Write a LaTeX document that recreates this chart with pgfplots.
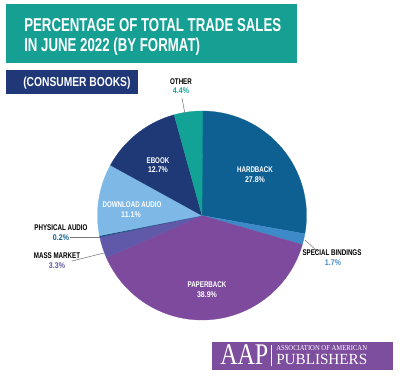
\documentclass[border=0pt]{standalone}
\usepackage{pgfplots}
\pgfplotsset{compat=1.18}
\usepackage{fontspec}
\usepackage{graphicx}
\setmainfont{Liberation Sans}
\newfontfamily\seriffont{Liberation Serif}

\definecolor{cTealBox}{RGB}{22,160,148}
\definecolor{cNavyBox}{RGB}{32,56,120}
\definecolor{cLogo}{RGB}{125,78,158}
\definecolor{cHard}{RGB}{14,96,146}
\definecolor{cSpecial}{RGB}{62,138,201}
\definecolor{cPaper}{RGB}{125,74,157}
\definecolor{cMass}{RGB}{96,88,168}
\definecolor{cPhys}{RGB}{22,78,128}
\definecolor{cDown}{RGB}{125,184,230}
\definecolor{cEbook}{RGB}{30,57,118}
\definecolor{cOther}{RGB}{18,163,150}
\definecolor{cLead}{RGB}{120,120,120}

\def\cum{0}
\newcommand\slice[2]{%
  \pgfmathsetmacro\sa{90-3.6*\cum}%
  \pgfmathsetmacro\sb{90-3.6*(\cum+#1)}%
  \pgfmathsetmacro\xs{202+104.5*cos(\sa)}%
  \pgfmathsetmacro\ys{162.5+104.5*sin(\sa)}%
  \edef\doslice{\noexpand\addplot[fill=#2, draw=#2, line width=0.2pt] coordinates {(202,162.5) (\xs,\ys)} arc[start angle=\sa, end angle=\sb, radius=78.375pt] -- cycle;}%
  \doslice
  \pgfmathsetmacro\newcum{\cum+#1}\xdef\cum{\newcum}%
}
\newcommand\lbl[4]{\node[anchor=base, inner sep=0pt, text=#4, font=\bfseries\fontsize{6.2}{7}\selectfont] at (axis cs:#1,#2) {\scalebox{0.75}[1]{#3}};}
\newcommand\num[4]{\node[anchor=base, inner sep=0pt, text=#4, font=\bfseries\fontsize{6.2}{7}\selectfont] at (axis cs:#1,#2) {\scalebox{0.85}[1]{#3}};}

\begin{document}
\begin{tikzpicture}
\begin{axis}[
  x=0.75pt, y=0.75pt,
  xmin=0, xmax=400, ymin=0, ymax=378,
  hide axis, clip=false,
]
\path (axis cs:0,0) rectangle (axis cs:400,378);
% title boxes
\fill[cTealBox] (axis cs:6,315) rectangle (axis cs:297,374);
\node[anchor=base west, inner sep=0pt, text=white, font=\bfseries\fontsize{14}{16}\selectfont] at (axis cs:24,346.3) {\scalebox{0.71}[1]{PERCENTAGE OF TOTAL TRADE SALES}};
\node[anchor=base west, inner sep=0pt, text=white, font=\bfseries\fontsize{14}{16}\selectfont] at (axis cs:24,326.3) {\scalebox{0.71}[1]{IN JUNE 2022 (BY FORMAT)}};
\fill[cNavyBox] (axis cs:6,284) rectangle (axis cs:138,308);
\node[anchor=base west, inner sep=0pt, text=white, font=\bfseries\fontsize{9.75}{11}\selectfont] at (axis cs:23,291) {\scalebox{0.79}[1]{(CONSUMER BOOKS)}};

% pie slices (percent), clockwise from 12 o'clock
\slice{27.8}{cHard}
\slice{1.7}{cSpecial}
\slice{38.9}{cPaper}
\slice{3.3}{cMass}
\slice{0.2}{cPhys}
\slice{11.1}{cDown}
\slice{12.7}{cEbook}
\slice{4.4}{cOther}

% leader lines
\draw[cLead, line width=0.4pt] (axis cs:182,280) -- (axis cs:185,264);
\draw[cLead, line width=0.4pt] (axis cs:70,141) -- (axis cs:100,141);
\draw[cLead, line width=0.4pt] (axis cs:72,117) -- (axis cs:104,125);
\draw[cLead, line width=0.4pt] (axis cs:305,138) -- (axis cs:318,126);

% labels
\lbl{181}{293}{OTHER}{black}
\num{181}{284}{4.4\%}{cOther}
\lbl{158}{214}{EBOOK}{white}
\num{158}{205}{12.7\%}{white}
\lbl{255}{205}{HARDBACK}{white}
\num{255}{195}{27.8\%}{white}
\lbl{132}{170}{DOWNLOAD AUDIO}{white}
\num{131}{160}{11.1\%}{white}
\lbl{61}{147}{PHYSICAL AUDIO}{black}
\num{61}{137}{0.2\%}{cHard}
\lbl{57}{119}{MASS MARKET}{black}
\num{57}{109}{3.3\%}{cMass}
\lbl{332}{122}{SPECIAL BINDINGS}{black}
\num{333}{112}{1.7\%}{cSpecial}
\lbl{207}{90}{PAPERBACK}{white}
\num{207}{80}{38.9\%}{white}

% logo
\fill[cLogo] (axis cs:212,8) rectangle (axis cs:393,36);
\node[anchor=base west, inner sep=0pt, text=white, font=\seriffont\fontsize{22.5}{24}\selectfont] at (axis cs:220,13) {\scalebox{0.8}[1]{AAP}};
\draw[white, line width=0.5pt] (axis cs:271,12) -- (axis cs:271,33);
\node[anchor=base west, inner sep=0pt, text=white, font=\seriffont\fontsize{5.6}{6}\selectfont] at (axis cs:276,27) {\scalebox{0.89}[1]{ASSOCIATION OF AMERICAN}};
\node[anchor=base west, inner sep=0pt, text=white, font=\seriffont\fontsize{11.6}{12}\selectfont] at (axis cs:276,13) {\scalebox{0.98}[1]{PUBLISHERS}};
\end{axis}
\end{tikzpicture}
\end{document}
